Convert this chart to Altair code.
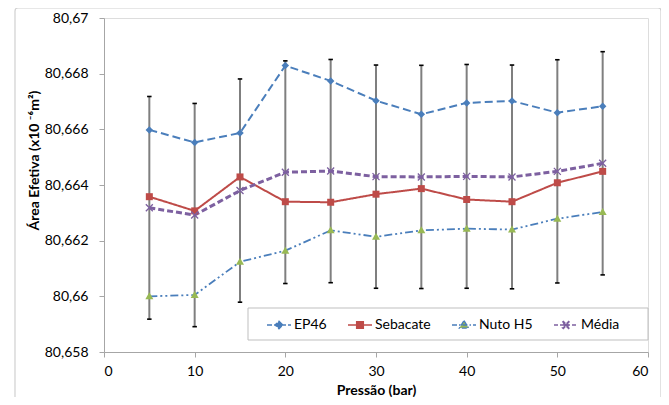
import altair as alt
import pandas as pd

# ---- data ----
pressao = [5, 10, 15, 20, 25, 30, 35, 40, 45, 50, 55]
ep46 = [80.66598, 80.66553, 80.66587, 80.66829, 80.66774, 80.66703, 80.66654, 80.66695, 80.66702, 80.66660, 80.66683]
sebacate = [80.66358, 80.66307, 80.66429, 80.66340, 80.66338, 80.66367, 80.66387, 80.66348, 80.66340, 80.66408, 80.66449]
nuto_h5 = [80.66000, 80.66005, 80.66124, 80.66164, 80.66237, 80.66214, 80.66237, 80.66243, 80.66240, 80.66279, 80.66303]
media = [80.66318, 80.66292, 80.66380, 80.66446, 80.66450, 80.66430, 80.66429, 80.66431, 80.66429, 80.66449, 80.66478]
erro_media = [0.00400, 0.00401, 0.00401, 0.00400, 0.00401, 0.00401, 0.00401, 0.00402, 0.00402, 0.00401, 0.00401]

series = ["EP46", "Sebacate", "Nuto H5", "Média"]
y_ticks = [80.658, 80.66, 80.662, 80.664, 80.666, 80.668, 80.67]
x_ticks = [0, 10, 20, 30, 40, 50, 60]

marker_colors = ["#4A7EBB", "#BE4B48", "#98B954", "#7D60A0"]
line_colors = ["#4A7EBB", "#BE4B48", "#4A7EBB", "#7D60A0"]
dashes = [[8, 4], [1, 0], [8, 3, 2, 3, 2, 3], [6, 3]]
legend_dashes = [[5, 2], [1, 0], [5, 2, 1.5, 2], [4, 2]]
widths = [2, 2, 1.8, 3]
marker_paths = [
    "M0,-1L1,0L0,1L-1,0Z",
    "M-1,-1H1V1H-1Z",
    "M0,-1L1,0.75L-1,0.75Z",
    "M-1,-1L1,1M-1,1L1,-1",
]
marker_sizes = [56, 49, 64, 49]
legend_paths = [
    "M-1,0H1M0,-0.32L0.32,0L0,0.32L-0.32,0Z",
    "M-1,0H1M-0.28,-0.28H0.28V0.28H-0.28Z",
    "M-1,0H1M0,-0.36L0.38,0.26L-0.38,0.26Z",
    "M-1,0H1M-0.3,-0.22L-0.22,-0.3L0,-0.08L0.22,-0.3L0.3,-0.22L0.08,0L0.3,0.22L0.22,0.3L0,0.08L-0.22,0.3L-0.3,0.22L-0.08,0Z",
]

values = [ep46, sebacate, nuto_h5, media]
rows = []
for s, vals in zip(series, values):
    for p, v in zip(pressao, vals):
        rows.append({"Pressao": p, "Serie": s, "Valor": v})
df = pd.DataFrame(rows)

df_err = pd.DataFrame({
    "Pressao": pressao,
    "lo": [m - e for m, e in zip(media, erro_media)],
    "hi": [m + e for m, e in zip(media, erro_media)],
})

FONT = "Lato"
axis_gray = "#A6A6A6"

x_enc = alt.X(
    "Pressao:Q",
    scale=alt.Scale(domain=[0, 60], nice=False),
    axis=alt.Axis(
        values=x_ticks, grid=False, title="Pressão (bar)",
        domainColor=axis_gray, tickColor=axis_gray, tickSize=5,
        labelFont=FONT, labelFontSize=14, labelColor="#000000",
        labelBaseline="middle", labelPadding=14,
        titleFont=FONT, titleFontSize=14, titleFontWeight="bold", titleColor="#000000",
        titleBaseline="alphabetic", titleY=42, titleX=272, titleAlign="center",
    ),
)


def y_enc(field="Valor"):
    return alt.Y(
        f"{field}:Q",
        scale=alt.Scale(domain=[80.658, 80.67], nice=False, zero=False),
        axis=alt.Axis(
            values=y_ticks, grid=False, title="Área Efetiva (x10 ⁻⁶m²)",
            domainColor=axis_gray, tickColor=axis_gray, tickSize=5,
            labelFont=FONT, labelFontSize=14, labelColor="#000000", labelPadding=11,
            labelExpr="replace(format(datum.value, '.3~f'), '.', ',')",
            titleFont=FONT, titleFontSize=14, titleFontWeight="bold", titleColor="#000000",
            titleAngle=270, titleAlign="center", titleBaseline="middle",
            titleX=-70, titleY=142,
        ),
    )


base = alt.Chart(df)

# outer frame (decoration)
frame = alt.Chart(pd.DataFrame({"a": [0]})).mark_rect(
    filled=False, stroke="#D0D0D0", strokeWidth=1.2, cornerRadius=3
).encode(x=alt.value(-89), x2=alt.value(557), y=alt.value(-10), y2=alt.value(400))

err_rule = alt.Chart(df_err).mark_rule(color="#7F7F7F", strokeWidth=2).encode(
    x=x_enc, y=y_enc("lo"), y2="hi:Q"
)
cap_lo = alt.Chart(df_err).mark_point(
    shape="M-1,0H1", size=20, stroke="#000000", strokeWidth=1.6, opacity=1
).encode(x=x_enc, y=y_enc("lo"))
cap_hi = alt.Chart(df_err).mark_point(
    shape="M-1,0H1", size=20, stroke="#000000", strokeWidth=1.6, opacity=1
).encode(x=x_enc, y=y_enc("hi"))

layers = [frame, err_rule, cap_lo, cap_hi]

for i, s in enumerate(series):
    line = base.transform_filter(alt.datum.Serie == s).mark_line(
        color=line_colors[i], strokeWidth=widths[i], strokeDash=dashes[i]
    ).encode(x=x_enc, y=y_enc())
    layers.append(line)

for i, s in enumerate(series):
    if s == "Média":
        pt = base.transform_filter(alt.datum.Serie == s).mark_point(
            shape=marker_paths[i], size=marker_sizes[i], filled=False,
            stroke=marker_colors[i], strokeWidth=1.3, opacity=1
        )
    else:
        pt = base.transform_filter(alt.datum.Serie == s).mark_point(
            shape=marker_paths[i], size=marker_sizes[i], filled=True,
            fill=marker_colors[i], strokeWidth=0, opacity=1
        )
    layers.append(pt.encode(x=x_enc, y=y_enc()))

# legend box (decoration)
legend_box = alt.Chart(pd.DataFrame({"a": [0]})).mark_rect(
    fill="#FFFFFF", stroke="#BFBFBF", strokeWidth=1
).encode(x=alt.value(144), x2=alt.value(544), y=alt.value(290), y2=alt.value(322))
layers.append(legend_box)

leg = alt.Legend(
    orient="none", legendX=162, legendY=294, direction="horizontal", columns=4,
    title=None, padding=0, columnPadding=18, labelOffset=2,
    labelFont=FONT, labelFontSize=14, labelColor="#000000",
    symbolSize=576, symbolStrokeWidth=1.4,
)
legend_layer = base.transform_filter("datum.Pressao < 0").mark_point(
    filled=True, opacity=1
).encode(
    x=x_enc, y=y_enc(),
    fill=alt.Fill("Serie:N", scale=alt.Scale(domain=series, range=marker_colors), legend=leg),
    stroke=alt.Stroke("Serie:N", scale=alt.Scale(domain=series, range=line_colors), legend=leg),
    shape=alt.Shape("Serie:N", scale=alt.Scale(domain=series, range=legend_paths), legend=leg),
    strokeDash=alt.StrokeDash("Serie:N", scale=alt.Scale(domain=series, range=legend_dashes), legend=leg),
)
layers.append(legend_layer)

chart = alt.layer(*layers).properties(
    width=544, height=334,
    autosize=alt.AutoSizeParams(type="none"),
    padding={"left": 96, "top": 10, "right": 13, "bottom": 45},
).configure_view(stroke=None).configure(background="#FFFFFF")

chart.save("out.html", embed_options={"renderer": "svg", "actions": False})
